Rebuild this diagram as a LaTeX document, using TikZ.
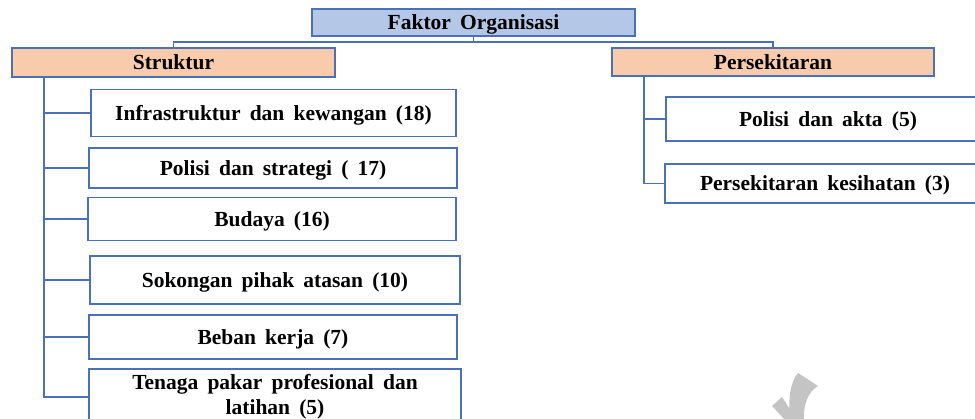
\documentclass[tikz,border=0pt]{standalone}
\usepackage{fontspec}
\setmainfont{Liberation Serif}[WordSpace=1.7]
\definecolor{bordblue}{HTML}{4A70B8}
\definecolor{topfill}{HTML}{B4C7E7}
\definecolor{catfill}{HTML}{F8CBAD}
\definecolor{wmgray}{HTML}{C4C4C4}
\tikzset{
  box/.style={draw=bordblue, line width=1.4pt, fill=white, inner sep=0pt, font=\bfseries\fontsize{21.5}{25}\selectfont, align=center, text depth=0pt},
  topbox/.style={box, fill=topfill},
  catbox/.style={box, fill=catfill},
  link/.style={draw=bordblue, line width=1.6pt}
}
\begin{document}
\begin{tikzpicture}[x=1pt,y=-1pt]
\useasboundingbox (0,0) rectangle (975,418);
\clip (0,0) rectangle (975,418);
% top
\node[topbox, minimum width=323pt, minimum height=27pt] (fo) at (473.5,22.5) {Faktor Organisasi};
\node[catbox, minimum width=323pt, minimum height=29pt] (st) at (173.5,62.5) {Struktur};
\node[catbox, minimum width=322pt, minimum height=28pt] (pe) at (773,62) {Persekitaran};
\coordinate (hub) at (473.5,42);
\draw[link] (fo.south) -- (hub);
\draw[link] (st.north) |- (hub) -| (pe.north);
% Struktur children
\node[box, minimum width=365pt, minimum height=47pt] (c1) at (273.5,113) {Infrastruktur dan kewangan (18)};
\node[box, minimum width=368pt, minimum height=40pt] (c2) at (273,168) {Polisi dan strategi ( 17)};
\node[box, minimum width=368pt, minimum height=43pt] (c3) at (272,219) {Budaya (16)};
\node[box, minimum width=370pt, minimum height=48pt] (c4) at (275,280) {Sokongan pihak atasan (10)};
\node[box, minimum width=368pt, minimum height=44pt] (c5) at (273,337) {Beban kerja (7)};
\node[box, text depth={}, minimum width=372pt, minimum height=56pt] (c6) at (275,397) {Tenaga pakar profesional dan\\latihan (5)};
\coordinate (sv) at (44,0);
\draw[link] (sv |- st.south) -- (sv |- c6.west) -- (c6.west);
\foreach \c in {c1,c2,c3,c4,c5} \draw[link] (sv |- \c.west) -- (\c.west);
% Persekitaran children
\node[box, minimum width=324pt, minimum height=44pt] (p1) at (828,119) {Polisi dan akta (5)};
\node[box, minimum width=320pt, minimum height=39pt] (p2) at (825,183.5) {Persekitaran kesihatan (3)};
\coordinate (pv) at (644,0);
\draw[link] (pv |- pe.south) -- (pv |- p2.west) -- (p2.west);
\draw[link] (pv |- p1.west) -- (p1.west);
% watermark fragment
\fill[wmgray] (798,373) -- (818,386) .. controls (808,392) and (803,405) .. (804,420) -- (790,420) .. controls (788,400) and (790,382) .. (798,373) -- cycle;
\fill[wmgray] (772,406) -- (782,397) -- (797,420) -- (785,420) -- cycle;
\end{tikzpicture}
\end{document}
